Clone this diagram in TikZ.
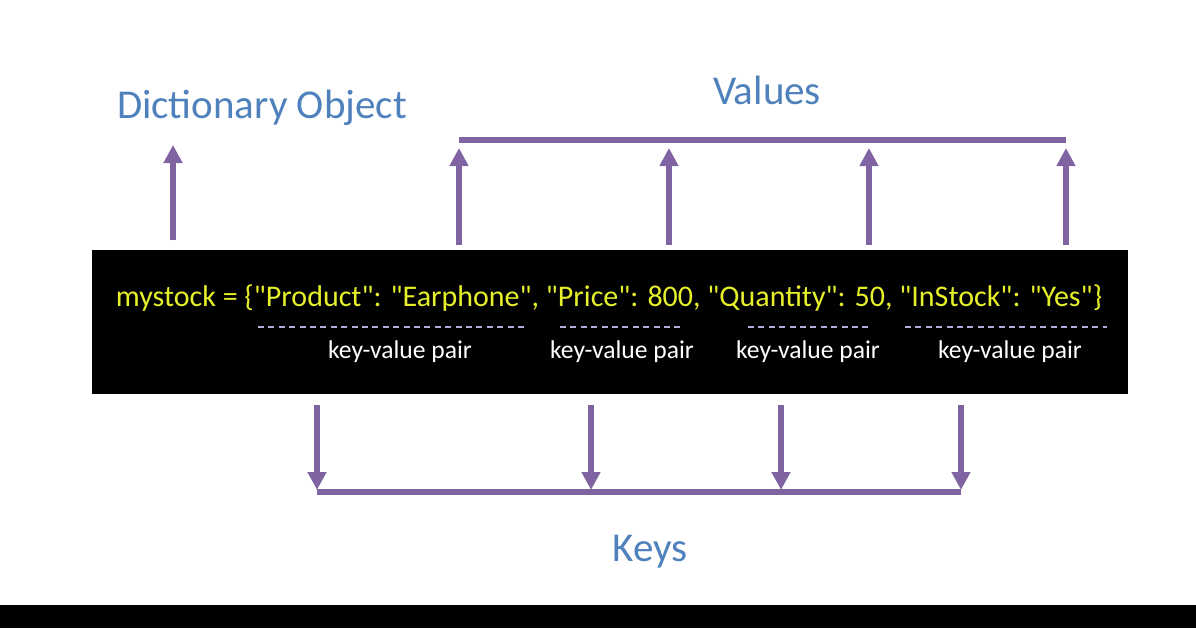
\documentclass[tikz,border=0pt]{standalone}
\usepackage{fontspec}
\setmainfont{Carlito}
\usetikzlibrary{positioning,arrows.meta}
\definecolor{arrowpurple}{HTML}{8064A2}
\definecolor{titleblue}{HTML}{4F81BD}
\definecolor{codeyellow}{HTML}{E6F02A}
\newcommand{\qq}[1]{\textquotedbl#1\textquotedbl}
\tikzset{
  arr/.style={draw=arrowpurple, line width=2.6pt, -{Triangle[length=9pt,width=9pt]}},
  bar/.style={draw=arrowpurple, line width=2.6pt},
  title/.style={text=titleblue, font=\fontsize{20.5}{22}\selectfont},
  pair/.style={text=white, font=\fontsize{12.8}{14}\selectfont},
  pairline/.style={draw=gray!60!blue!45, line width=0.8pt, dash pattern=on 3pt off 2.2pt}
}
\begin{document}
\begin{tikzpicture}[x=0.5pt,y=-0.5pt]
\useasboundingbox (0,0) rectangle (1196,628);

% code box
\fill[black] (92,250) rectangle (1128,394);
\fill[black] (0,605) rectangle (1196,628);
\node (code) at (609,298) [text=codeyellow, font=\fontsize{15}{17}\selectfont] {mystock = \{\qq{Product}: \qq{Earphone}, \qq{Price}: 800, \qq{Quantity}: 50, \qq{InStock}: \qq{Yes}\}};

% dashes and pair labels
\foreach \a/\b/\c [count=\i] in {258/525/400, 560/683/622, 748/870/808, 905/1107/1010} {
  \draw[pairline] (\a,327) -- (\b,327);
  \node (pair\i) at (\c,352) [pair] {key-value pair};
}

% titles
\node (dict) at (262,108) [title] {Dictionary Object};
\node (values) at (767,90) [title] {Values};
\node (keys) at (650,552) [title] {Keys};

% dictionary object arrow
\coordinate (dictlow) at (173,240);
\coordinate (dicthigh) at (173,145);
\path [arr] (dictlow) -- (dicthigh);

% values arrows
\foreach \x [count=\i] in {459,669,869,1066} {
  \coordinate (vlow\i) at (\x,245);
  \coordinate (vhigh\i) at (\x,148);
  \path [arr] (vlow\i) -- (vhigh\i);
}
\coordinate (vbar) at (459,140);
\path [bar] (vbar) -- ++(607,0);

% keys arrows
\foreach \x [count=\i] in {317,591,781,961} {
  \coordinate (khigh\i) at (\x,405);
  \coordinate (klow\i) at (\x,490);
  \path [arr] (khigh\i) -- (klow\i);
}
\coordinate (kbar) at (317,492);
\path [bar] (kbar) -- ++(644,0);

\end{tikzpicture}
\end{document}
